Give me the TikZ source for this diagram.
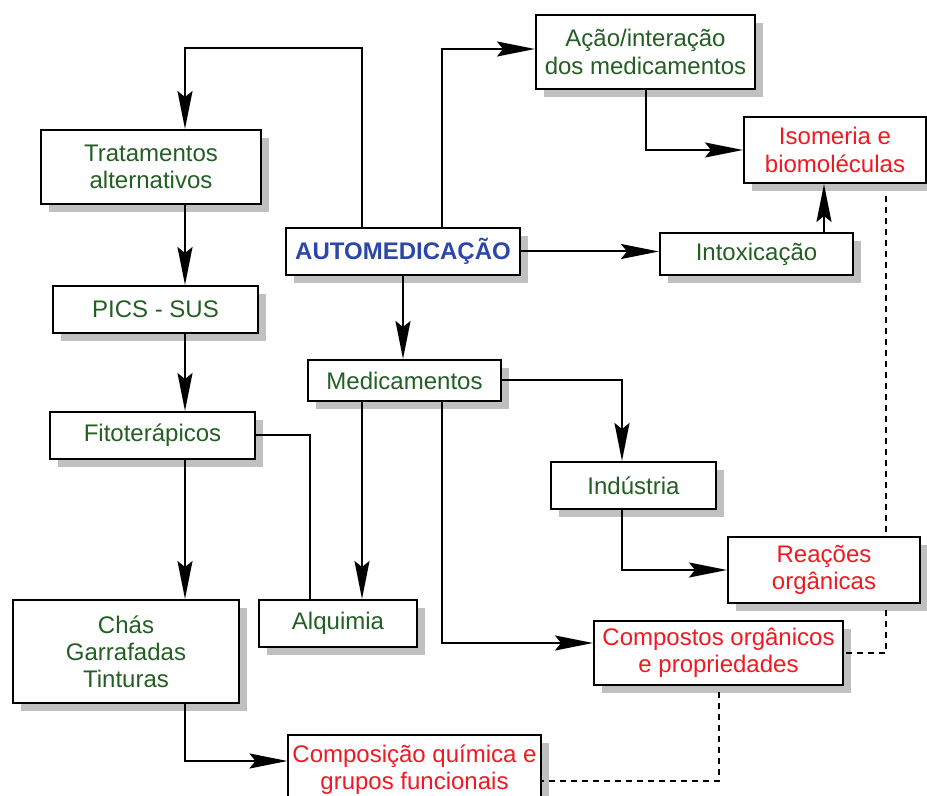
\documentclass[tikz,border=0pt]{standalone}
\usepackage{fontspec}
\setmainfont{Liberation Sans}
\usetikzlibrary{shapes,arrows.meta,shadows}
\definecolor{TextGreen}{RGB}{35, 95, 35}
\definecolor{TextRed}{RGB}{240, 25, 35}
\definecolor{TextBlue}{RGB}{45, 70, 170}
\definecolor{ShadowGray}{RGB}{192, 192, 192}

\begin{document}
\begin{tikzpicture}[
    x=0.5pt, y=-0.5pt,
    box/.style={draw, line width=1pt, fill=white, rectangle, inner sep=2pt, align=center, text=TextGreen,
      font=\fontsize{12}{13.6}\selectfont,
      drop shadow={shadow xshift=4pt, shadow yshift=-4pt, fill=ShadowGray, opacity=1}},
    topic/.style={box, text=TextRed},
    arrow/.style={-{Stealth[length=19pt, width=7.5pt, inset=3pt]}, line width=1pt},
    plain/.style={line width=1pt},
    link/.style={line width=1pt, dash pattern=on 3pt off 2.5pt, shorten <=3pt}
  ]
    \useasboundingbox (0,0) rectangle (927,796);

    \node[box, text=TextBlue, font=\fontsize{12}{13.6}\selectfont\bfseries, minimum width=117pt, minimum height=23.5pt] (1) at (403,251.5) {AUTOMEDICAÇÃO};
    \node[box, minimum width=110pt, minimum height=37pt] (2) at (151,167) {Tratamentos\\alternativos};
    \node[box, minimum width=102.5pt, minimum height=23.5pt] (3) at (155.5,309.5) {PICS - SUS};
    \node[box, minimum width=102.5pt, minimum height=23.5pt] (4) at (152.5,435.5) {Fitoterápicos};
    \node[box, minimum width=113pt, minimum height=51.5pt] (5) at (126,651.5) {Chás\\Garrafadas\\Tinturas};
    \node[box, minimum width=79pt, minimum height=23.5pt] (6) at (338,623.5) {Alquimia};
    \node[box, minimum width=96.5pt, minimum height=20.5pt] (7) at (404.5,380.5) {Medicamentos};
    \node[box, minimum width=109.5pt, minimum height=37pt] (8) at (645.5,52) {Ação/interação\\dos medicamentos};
    \node[topic, minimum width=91pt, minimum height=33pt] (9) at (835,150) {Isomeria e\\biomoléculas};
    \node[box, minimum width=96.5pt, minimum height=21pt] (10) at (756.5,254) {Intoxicação};
    \node[box, minimum width=82.5pt, minimum height=23.5pt] (11) at (633.5,485.5) {Indústria};
    \node[topic, minimum width=96pt, minimum height=33pt] (12) at (824,570) {Reações\\orgânicas};
    \node[topic, minimum width=124.5pt, minimum height=32pt] (13) at (718.5,653) {Compostos orgânicos\\e propriedades};
    \node[topic, minimum width=124.5pt, minimum height=35pt] (14) at (414.5,770) {Composição química e\\grupos funcionais};

    % columns and rows the connectors run along
    \coordinate (lcol) at (185,0);
    \coordinate (acol) at (310,0);
    \coordinate (mcol) at (362,0);
    \coordinate (rcol) at (442,0);
    \coordinate (icol) at (622,0);
    \coordinate (xcol) at (824,0);
    \coordinate (dcol) at (886,0);
    \coordinate (topy) at (0,48);

    \draw[arrow] (1.north -| mcol) |- (topy -| lcol) -- (2.north -| lcol);
    \draw[arrow] (1.north -| rcol) |- ([yshift=1.5pt]8.west);
    \draw[arrow] (8.south) |- (9.west);
    \draw[arrow] (1.east) -- (1.east -| 10.west);
    \draw[arrow] (10.north -| xcol) -- (9.south -| xcol);
    \draw[arrow] (2.south -| lcol) -- (3.north -| lcol);
    \draw[arrow] (3.south -| lcol) -- (4.north -| lcol);
    \draw[arrow] (4.south -| lcol) -- (5.north -| lcol);
    \draw[plain] (4.east) -| (6.north -| acol);
    \draw[arrow] (1.south) -- (1.south |- 7.north);
    \draw[arrow] (7.south -| mcol) -- (6.north -| mcol);
    \draw[arrow] (7.south -| rcol) |- ([yshift=5pt]13.west);
    \draw[arrow] (7.east) -| (11.north -| icol);
    \draw[arrow] (11.south -| icol) |- (12.west);
    \draw[arrow] (5.south -| lcol) |- ([yshift=4.5pt]14.west);

    \draw[link, shorten <=6pt] (9.south -| dcol) -- (12.north -| dcol);
    \draw[link] (12.south -| dcol) |- (13.east);
    \draw[link] (13.south) |- ([yshift=-5.5pt]14.east);
  \end{tikzpicture}
\end{document}
